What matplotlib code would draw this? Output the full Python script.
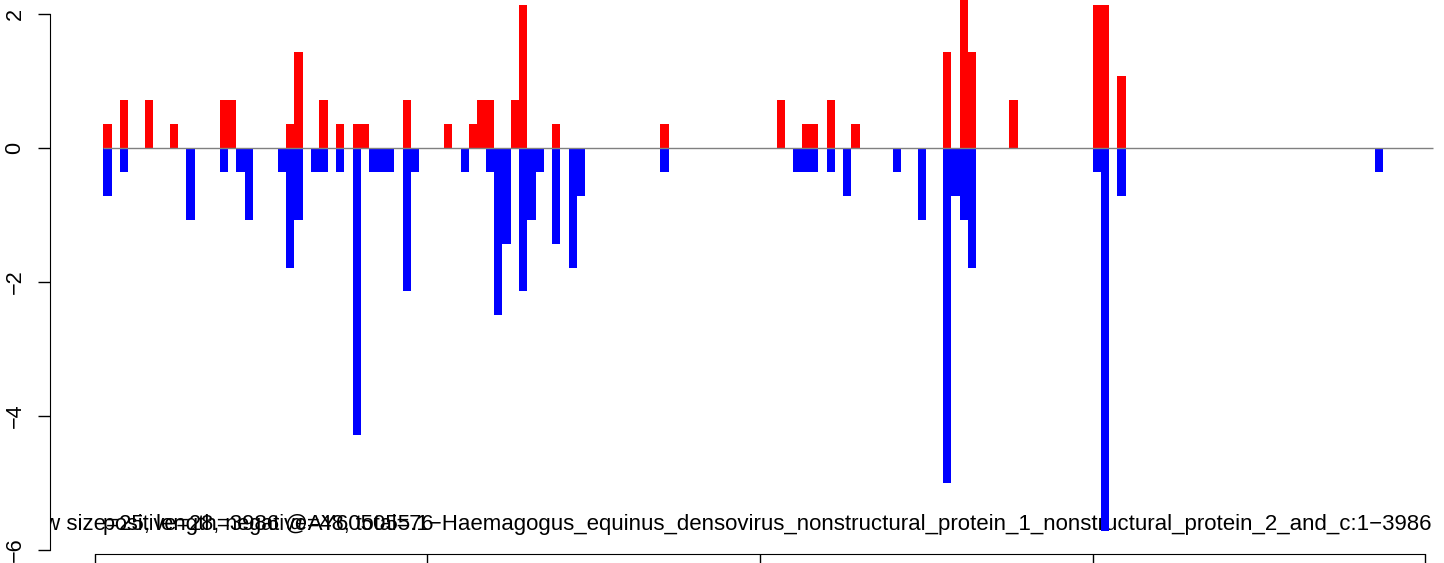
import matplotlib.pyplot as plt

plt.rcParams['font.family'] = ['Liberation Sans', 'DejaVu Sans']

# ======= Data: window index (25 nt windows), positive / negative values =======
win_size = 25
seq_len = 3986
windows = [1, 3, 6, 9, 11, 15, 16, 17, 18, 22, 23, 24, 26, 27, 29, 31, 32, 33, 34, 35,
           37, 38, 42, 44, 45, 46, 47, 48, 49, 50, 51, 52, 53, 55, 57, 58, 68, 82, 84, 85,
           86, 88, 90, 91, 96, 99, 102, 103, 104, 105, 110, 120, 121, 123, 154]
pos_vals = [0.36, 0.71, 0.71, 0.36, 0, 0.71, 0.71, 0, 0, 0, 0.36, 1.43, 0, 0.71, 0.36, 0.36, 0.36, 0, 0, 0,
            0.71, 0, 0.36, 0, 0.36, 0.71, 0.71, 0, 0, 0.71, 2.14, 0, 0, 0.36, 0, 0, 0.36, 0.71, 0, 0.36,
            0.36, 0.71, 0, 0.36, 0, 0, 1.43, 0, 2.5, 1.43, 0.71, 2.14, 2.14, 1.07, 0]
neg_vals = [0.71, 0.36, 0, 0, 1.07, 0.36, 0, 0.36, 1.07, 0.36, 1.79, 1.07, 0.36, 0.36, 0.36, 4.29, 0, 0.36, 0.36, 0.36,
            2.14, 0.36, 0, 0.36, 0, 0, 0.36, 2.5, 1.43, 0, 2.14, 1.07, 0.36, 1.43, 1.79, 0.71, 0.36, 0, 0.36, 0.36,
            0.36, 0.36, 0.71, 0, 0.36, 1.07, 5.0, 0.71, 1.07, 1.79, 0, 0.36, 5.71, 0.71, 0.36]

main_title = ("window size=25, length=3986 @AY605055.1\u2212Haemagogus_equinus_densovirus_"
              "nonstructural_protein_1_nonstructural_protein_2_and_c:1\u22123986")
sub_title = "positive=28, negative=48, total=76"

# ======= Plot =======
fig = plt.figure(figsize=(14.44, 5.63), dpi=100)
ax = fig.add_axes([50 / 1444, 9 / 563, 1394 / 1444, 554 / 563])

starts = [w * win_size for w in windows]
ax.text(4021, -5.70, main_title, ha='right', va='baseline', fontsize=16, clip_on=True, zorder=1)
ax.text(25, -5.70, sub_title, ha='left', va='baseline', fontsize=15.6, clip_on=True, zorder=1)

ax.bar(starts, pos_vals, width=win_size, align='edge', color='#ff0000', linewidth=0, zorder=2)
ax.bar(starts, [-v for v in neg_vals], width=win_size, align='edge', color='#0000ff', linewidth=0, zorder=2)
ax.hlines(0, win_size, 161 * win_size, color='#808080', lw=1, zorder=3)

ax.set_xlim(-135.3, 4057.1)
ax.set_ylim(-6.06, 2.209)

for s in ['top', 'right']:
    ax.spines[s].set_visible(False)
ax.spines['left'].set_bounds(-6, 2)
ax.spines['bottom'].set_bounds(0, 4000)
ax.set_yticks([-6, -4, -2, 0, 2])
ax.set_yticklabels(['\u22126', '\u22124', '\u22122', '0', '2'])
ax.set_xticks([0, 1000, 2000, 3000, 4000])
ax.set_xticklabels([])
ax.tick_params(axis='y', length=8.6, width=1, labelsize=15.6, labelrotation=90, pad=9)
ax.tick_params(axis='x', length=8.6, width=1)
for lab in ax.get_yticklabels():
    lab.set_va('center')

plt.savefig("out.png", dpi=100)
